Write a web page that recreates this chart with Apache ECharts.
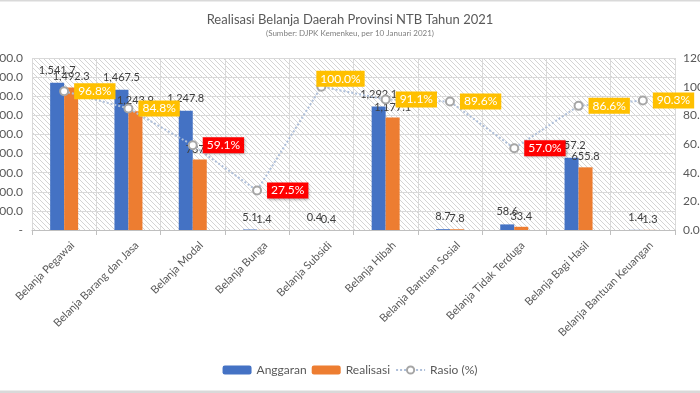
<!DOCTYPE html>
<html>
<head>
<meta charset="utf-8">
<script src="https://cdn.jsdelivr.net/npm/echarts@6/dist/echarts.min.js"></script>
<style>html,body{margin:0;padding:0;background:#fff;}#c{width:700px;height:393px;}</style>
</head>
<body>
<div id="c"></div>
<script>
const categories = ["Belanja Pegawai","Belanja Barang dan Jasa","Belanja Modal","Belanja Bunga","Belanja Subsidi","Belanja Hibah","Belanja Bantuan Sosial","Belanja Tidak Terduga","Belanja Bagi Hasil","Belanja Bantuan Keuangan"];
const anggaran = [1541.7, 1467.5, 1247.8, 5.1, 0.4, 1292.1, 8.7, 58.6, 757.2, 1.4];
const realisasi = [1492.3, 1243.9, 737.5, 1.4, 0.4, 1177.1, 7.8, 33.4, 655.8, 1.3];
const rasio = [96.8, 84.8, 59.1, 27.5, 100.0, 91.1, 89.6, 57.0, 86.6, 90.3];
const leftTicks = {min: 0, max: 1800, interval: 200};
const rightTicks = {min: 0, max: 120, interval: 20};

const FONT = 'Lato';
const fmt = v => Number(v).toLocaleString('en-US', {minimumFractionDigits: 1, maximumFractionDigits: 1});

// hatch pattern
const pc = document.createElement('canvas');
pc.width = 5; pc.height = 5;
const g = pc.getContext('2d');
g.strokeStyle = '#d4d4d4';
g.lineWidth = 1;
g.beginPath();
g.moveTo(-1, -1); g.lineTo(6, 6);
g.moveTo(-1, 4); g.lineTo(1, 6);
g.moveTo(4, -1); g.lineTo(6, 1);
g.stroke();

const chart = echarts.init(document.getElementById('c'), null, {renderer: 'canvas'});
const barLabel = {show: true, position: 'top', distance: 7, color: '#404040', fontSize: 11, fontFamily: FONT, formatter: p => fmt(p.value)};

const rasioData = rasio.map(v => {
  const item = {value: v};
  const lab = {};
  if (v < 60) { lab.backgroundColor = '#FF0000'; lab.shadowColor = 'rgba(0,0,0,0.35)'; lab.shadowBlur = 3; lab.shadowOffsetX = 1; lab.shadowOffsetY = 1; }
  if (v >= 100) { lab.offset = [-15, -8]; }
  item.label = lab;
  return item;
});

chart.setOption({
  animation: false,
  textStyle: {fontFamily: FONT},
  title: {
    text: 'Realisasi Belanja Daerah Provinsi NTB Tahun 2021',
    subtext: '(Sumber: DJPK Kemenkeu, per 10 Januari 2021)',
    left: 'center', top: 8, itemGap: 3,
    textStyle: {fontSize: 13, fontWeight: 'normal', color: '#595959', fontFamily: FONT},
    subtextStyle: {fontSize: 8, color: '#7f7f7f', fontFamily: FONT}
  },
  graphic: [
    {type: 'rect', shape: {x: 0, y: 0, width: 700, height: 1.5}, style: {fill: '#d9d9d9'}, silent: true},
    {type: 'rect', shape: {x: 0, y: 390.5, width: 700, height: 2.5}, style: {fill: '#d9d9d9'}, silent: true}
  ],
  legend: {
    bottom: 12, left: 'center', itemWidth: 29, itemHeight: 9, itemGap: 5,
    textStyle: {color: '#595959', fontSize: 12, fontFamily: FONT},
    data: ['Anggaran', 'Realisasi', 'Rasio (%)']
  },
  grid: {left: 32, right: 25, top: 58, bottom: 163, show: true, borderWidth: 0,
    containLabel: false, outerBoundsMode: 'none',
    backgroundColor: {image: pc, repeat: 'repeat'}},
  xAxis: {
    type: 'category', data: categories,
    axisLine: {lineStyle: {color: '#bfbfbf'}},
    axisTick: {show: true, alignWithLabel: false, length: 5, lineStyle: {color: '#bfbfbf'}},
    splitLine: {show: true, lineStyle: {color: '#d9d9d9'}},
    axisLabel: {rotate: 45, interval: 0, color: '#595959', fontSize: 11, fontFamily: FONT, margin: 22,
      padding: [0, -12, 0, 0]}
  },
  yAxis: [
    {type: 'value', min: leftTicks.min, max: leftTicks.max, interval: leftTicks.interval,
      axisLine: {show: false}, axisTick: {show: false},
      splitLine: {lineStyle: {color: '#d9d9d9'}},
      axisLabel: {color: '#595959', fontSize: 12, fontFamily: FONT, margin: 9,
        formatter: v => v === 0 ? '-' : fmt(v)}},
    {type: 'value', min: rightTicks.min, max: rightTicks.max, interval: rightTicks.interval,
      position: 'right', axisLine: {show: false}, axisTick: {show: false}, splitLine: {show: false},
      axisLabel: {color: '#595959', fontSize: 12, fontFamily: FONT, margin: 8,
        formatter: v => v.toFixed(1)}}
  ],
  series: [
    {name: 'Anggaran', type: 'bar', data: anggaran, barWidth: 14, barGap: '0%',
      itemStyle: {color: '#4472C4'}, label: barLabel, z: 2},
    {name: 'Realisasi', type: 'bar', data: realisasi, barWidth: 14, barGap: '0%',
      itemStyle: {color: '#ED7D31'}, label: Object.assign({}, barLabel, {distance: 5}), z: 2},
    {name: 'Rasio (%)', type: 'line', yAxisIndex: 1, data: rasioData,
      symbol: 'emptyCircle', symbolSize: 8, z: 5,
      lineStyle: {type: 'dotted', width: 2, color: '#aebfd9'},
      itemStyle: {color: '#a6a6a6', borderColor: '#a6a6a6', borderWidth: 1.5},
      label: {show: true, position: 'right', distance: 5, color: '#ffffff', fontSize: 12, fontFamily: FONT,
        backgroundColor: '#FFC000', padding: [2, 4, 2, 4],
        formatter: p => p.value.toFixed(1) + '%'}}
  ]
});
</script>
</body>
</html>
